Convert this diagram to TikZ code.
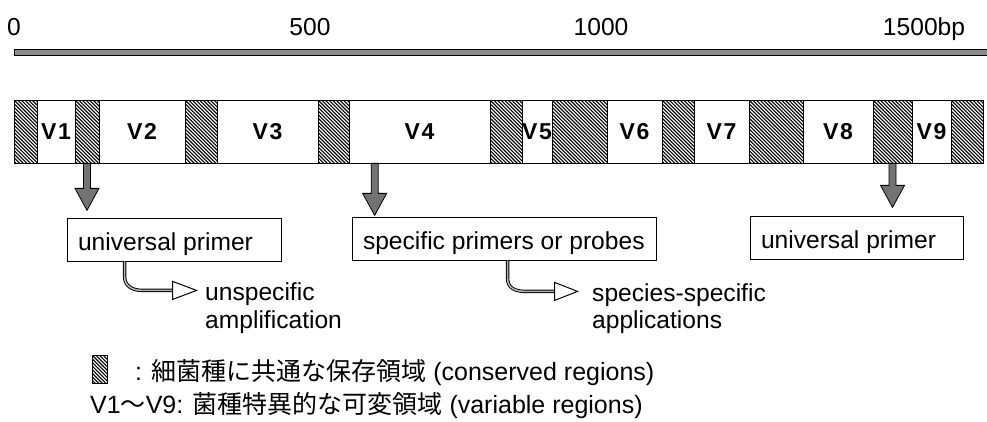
\documentclass[tikz,border=0pt]{standalone}
\usepackage{fontspec}
\setmainfont{Liberation Sans}
\newfontfamily\jp{Noto Sans CJK JP}
\usetikzlibrary{calc}
\tikzset{
  txt/.style={font=\fontsize{24.6}{30}\selectfont, inner sep=0pt},
  lgd/.style={font=\fontsize{25}{30}\selectfont, inner sep=0pt},
  hcell/.style={draw, line width=0.7pt, minimum height=63pt, inner sep=0pt,
    path picture={\foreach \k in {-19,...,16}{\draw[line width=1.1pt] ($(path picture bounding box.north west)+(\k*3.6,0)$) -- ++(64,64);}}},
  vcell/.style={draw, line width=0.7pt, minimum height=63pt, inner sep=0pt,
    font=\bfseries\fontsize{23}{28}\selectfont},
  pbox/.style={draw, line width=0.8pt, minimum height=43pt, inner xsep=11pt, inner ysep=0pt,
    text height=26pt, text depth=5pt, font=\fontsize{24.6}{30}\selectfont},
  arrowsty/.style={fill=black!55, draw=black, line width=0.8pt, line join=miter},
  hooksty/.style={draw=black, line width=0.9pt, double=black!30, double distance=1.6pt},
  headsty/.style={fill=white, draw=black, line width=1pt, line join=miter},
}
\newcommand\dnarrow[2]{\filldraw[arrowsty] ($(#1)+(-3.5,0)$) -- ($(#2)+(-3.5,-22)$) -- ($(#2)+(-12,-22)$) -- (#2) -- ($(#2)+(12,-22)$) -- ($(#2)+(3.5,-22)$) -- ($(#1)+(3.5,0)$) -- cycle;}
\begin{document}
\begin{tikzpicture}[x=1pt,y=-1pt]
\useasboundingbox (0,0) rectangle (987,421);
% scale
\node[txt, anchor=base] (s0) at (14,35) {0};
\node[txt, anchor=base] (s500) at (310,35) {500};
\node[txt, anchor=base] (s1000) at (601,35) {1000};
\node[txt, anchor=base] (s1500) at (924,35) {1500bp};
\filldraw[fill=black!45, draw=black, line width=0.8pt] (14,49.5) rectangle (992,55.5);
% bar
\node[hcell, minimum width=23pt] (h1) at (25.5,131.5) {};
\node[vcell, minimum width=38pt] (v1) at (56,131.5) {V\kern1.5pt1};
\node[hcell, minimum width=24pt] (h2) at (87,131.5) {};
\node[vcell, minimum width=86pt] (v2) at (142,131.5) {V\kern1.5pt2};
\node[hcell, minimum width=32pt] (h3) at (201,131.5) {};
\node[vcell, minimum width=101pt] (v3) at (267.5,131.5) {V\kern1.5pt3};
\node[hcell, minimum width=31pt] (h4) at (333.5,131.5) {};
\node[vcell, minimum width=141pt] (v4) at (419.5,131.5) {V\kern1.5pt4};
\node[hcell, minimum width=32pt] (h5) at (506,131.5) {};
\node[vcell, minimum width=30pt] (v5) at (537,131.5) {V\kern1.5pt5};
\node[hcell, minimum width=55pt] (h6) at (579.5,131.5) {};
\node[vcell, minimum width=55pt] (v6) at (634.5,131.5) {V\kern1.5pt6};
\node[hcell, minimum width=32pt] (h7) at (678,131.5) {};
\node[vcell, minimum width=55pt] (v7) at (721.5,131.5) {V\kern1.5pt7};
\node[hcell, minimum width=54pt] (h8) at (776,131.5) {};
\node[vcell, minimum width=70pt] (v8) at (838,131.5) {V\kern1.5pt8};
\node[hcell, minimum width=39pt] (h9) at (892.5,131.5) {};
\node[vcell, minimum width=39pt] (v9) at (931.5,131.5) {V\kern1.5pt9};
\node[hcell, minimum width=32pt] (h10) at (967,131.5) {};
% primer boxes
\node[pbox] (box1) at (174,239.5) {\makebox[192pt][l]{universal primer}};
\node[pbox] (box2) at (504,238.5) {\makebox[282pt][l]{specific primers or probes}};
\node[pbox] (box3) at (856.5,238) {\makebox[191pt][l]{universal primer}};
% down arrows
\coordinate (a1s) at (h2.south);
\coordinate (a1e) at ($(h2.south)+(0,47)$);
\coordinate (a2s) at ($(v4.south west)+(26,0)$);
\coordinate (a2e) at ($(a2s)+(0,52)$);
\coordinate (a3s) at (h9.south);
\coordinate (a3e) at ($(h9.south)+(0,44)$);
\dnarrow{a1s}{a1e}
\dnarrow{a2s}{a2e}
\dnarrow{a3s}{a3e}
% hook arrows
\coordinate (k1s) at ($(box1.south west)+(58,0)$);
\coordinate (k1) at ($(k1s)+(48,29)$);
\coordinate (k1t) at ($(k1)+(24,0)$);
\draw[hooksty] (k1s) -- ($(k1s)+(0,15)$) .. controls ($(k1s)+(0,25)$) and ($(k1s)+(8,29)$) .. ($(k1s)+(18,29)$) -- (k1);
\filldraw[headsty] ($(k1)+(0,-9)$) -- (k1t) -- ($(k1)+(0,9)$) -- cycle;
\coordinate (k2s) at ($(box2.south west)+(156,0)$);
\coordinate (k2) at ($(k2s)+(47,31)$);
\coordinate (k2t) at ($(k2)+(23,0)$);
\draw[hooksty] (k2s) -- ($(k2s)+(0,18)$) .. controls ($(k2s)+(0,28)$) and ($(k2s)+(8,31)$) .. ($(k2s)+(18,31)$) -- (k2);
\filldraw[headsty] ($(k2)+(0,-9)$) -- (k2t) -- ($(k2)+(0,9)$) -- cycle;
\node[txt, anchor=base west] (u1) at (205,300) {unspecific};
\node[txt, anchor=base west] (u2) at (205,328) {amplification};
\node[txt, anchor=base west] (p1) at (592,301) {species-specific};
\node[txt, anchor=base west] (p2) at (592,328) {applications};
% legend
\node[hcell, minimum width=15pt, minimum height=28pt] (lsq) at (99.5,369) {};
\node[lgd, anchor=base west] (l1) at (135,380) {: {\jp 細菌種に共通な保存領域} (conserved regions)};
\node[lgd, anchor=base west] (l2) at (90,413) {V1{\jp ～}V9: {\jp 菌種特異的な可変領域} (variable regions)};
\end{tikzpicture}
\end{document}
